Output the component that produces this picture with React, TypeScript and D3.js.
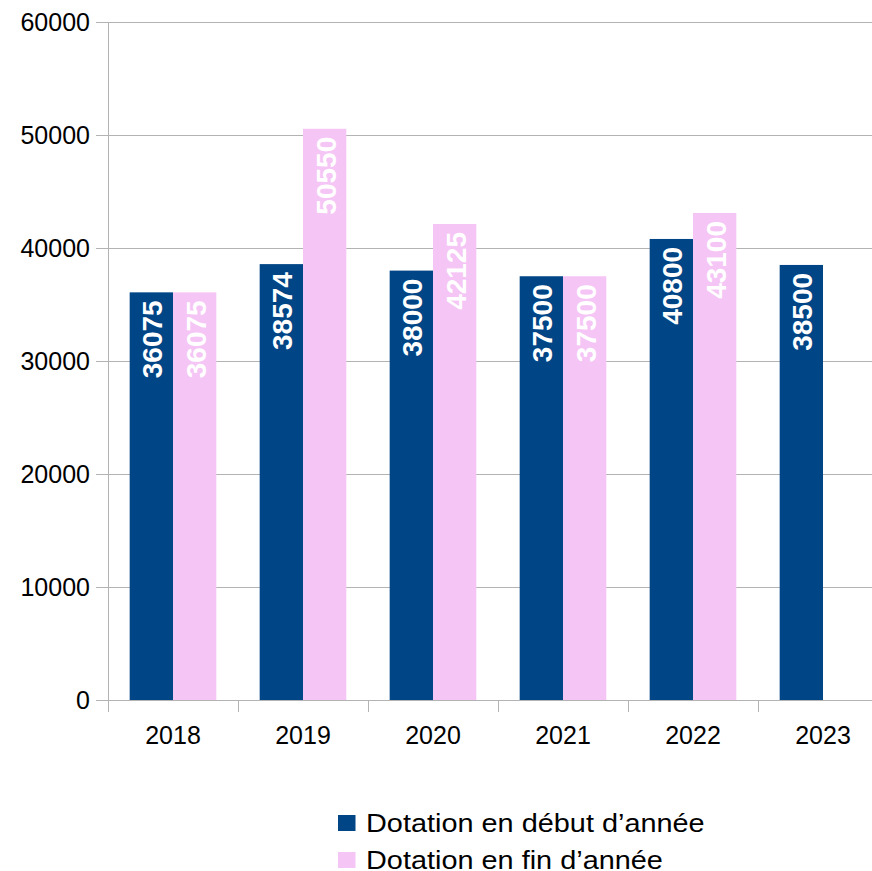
import React from "react";
import * as d3 from "d3";

const categories = ["2018", "2019", "2020", "2021", "2022", "2023"];
const debutValues: (number | null)[] = [36075, 38574, 38000, 37500, 40800, 38500];
const finValues: (number | null)[] = [36075, 50550, 42125, 37500, 43100, null];
const yTicks = [0, 10000, 20000, 30000, 40000, 50000, 60000];
const seriesNames = ["Dotation en début d’année", "Dotation en fin d’année"];
const seriesColors = ["#004586", "#f5c6f5"];

const W = 872;
const H = 871;
const left = 108;
const bandW = 130;
const top = 22;
const bottom = 700;

export default function App() {
  const x = d3
    .scaleBand<string>()
    .domain(categories)
    .range([left, left + bandW * categories.length])
    .paddingInner(0)
    .paddingOuter(0);
  const inner = d3
    .scaleBand<number>()
    .domain([0, 1])
    .range([0, x.bandwidth()])
    .paddingInner(0)
    .paddingOuter(0.5);
  const y = d3.scaleLinear().domain([0, 60000]).range([bottom, top]);
  const series = [debutValues, finValues];
  const font = "'Liberation Sans', Arial, sans-serif";
  const grid = "#b3b3b3";

  return (
    <svg
      width={W}
      height={H}
      style={{ position: "absolute", left: 0, top: 0, background: "#fff" }}
      fontFamily={font}
    >
      {yTicks.map((t) => (
        <g key={t}>
          <line x1={96} x2={W} y1={Math.round(y(t)) + 0.5} y2={Math.round(y(t)) + 0.5} stroke={grid} strokeWidth={1} />
          <text x={90} y={y(t) + 8.7} textAnchor="end" fontSize={25} fill="#000">
            {t}
          </text>
        </g>
      ))}
      {series.map((vals, si) =>
        categories.map((c, ci) => {
          const v = vals[ci];
          if (v == null) return null;
          const bx = (x(c) as number) + (inner(si) as number);
          const bw = inner.bandwidth();
          return (
            <rect key={`${si}-${c}`} x={bx} y={y(v)} width={bw} height={y(0) - y(v)} fill={seriesColors[si]} />
          );
        })
      )}
      <line x1={left + 0.5} x2={left + 0.5} y1={top} y2={bottom + 12} stroke={grid} />
      <line x1={left} x2={W} y1={bottom + 0.5} y2={bottom + 0.5} stroke={grid} />
      {d3.range(categories.length + 1).map((i) => {
        const tx = left + bandW * i;
        return <line key={i} x1={tx + 0.5} x2={tx + 0.5} y1={bottom} y2={bottom + 12} stroke={grid} />;
      })}
      {categories.map((c) => (
        <text key={c} x={(x(c) as number) + x.bandwidth() / 2} y={744} textAnchor="middle" fontSize={25} fill="#000">
          {c}
        </text>
      ))}
      {series.map((vals, si) =>
        categories.map((c, ci) => {
          const v = vals[ci];
          if (v == null) return null;
          const cx = (x(c) as number) + (inner(si) as number) + inner.bandwidth() / 2;
          const ty = y(v) + 8;
          return (
            <text
              key={`l-${si}-${c}`}
              transform={`translate(${cx + 11},${ty}) rotate(-90)`}
              textAnchor="end"
              fontSize={28}
              fontWeight="bold"
              fill="#fff"
            >
              {v}
            </text>
          );
        })
      )}
      {seriesNames.map((n, i) => (
        <g key={n}>
          <rect x={338} y={815 + i * 37} width={17.5} height={16} fill={seriesColors[i]} />
          <text
            transform={`translate(366,${832 + i * 37}) scale(1.155,1)`}
            fontSize={25}
            fill="#000"
          >
            {n}
          </text>
        </g>
      ))}
    </svg>
  );
}
